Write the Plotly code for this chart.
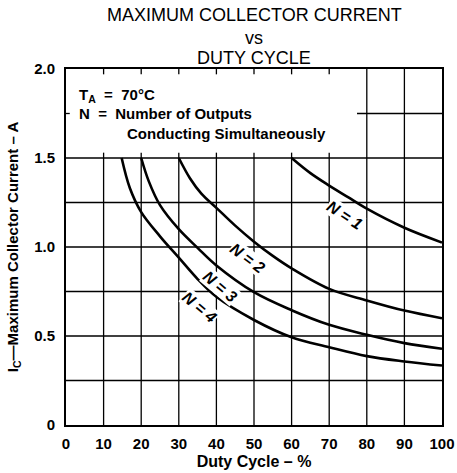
import plotly.graph_objects as go

# ---- data ----
n1_duty = [60, 65, 70, 75, 80, 90, 100]
n1_cur = [1.5, 1.415, 1.345, 1.28, 1.215, 1.108, 1.025]

n2_duty = [30, 33, 36, 40, 45, 50, 55, 60, 70, 80, 90, 100]
n2_cur = [1.5, 1.385, 1.30, 1.22, 1.12, 1.03, 0.95, 0.88, 0.765, 0.70, 0.643, 0.60]

n3_duty = [20, 22, 25, 30, 35, 40, 50, 60, 70, 80, 90, 100]
n3_cur = [1.5, 1.37, 1.235, 1.10, 0.995, 0.896, 0.746, 0.645, 0.563, 0.507, 0.46, 0.428]

n4_duty = [14.8, 17, 20, 25, 30, 35, 40, 50, 60, 70, 80, 90, 100]
n4_cur = [1.5, 1.33, 1.196, 1.06, 0.94, 0.82, 0.72, 0.59, 0.493, 0.437, 0.387, 0.357, 0.334]

x_ticks = [0, 10, 20, 30, 40, 50, 60, 70, 80, 90, 100]
y_ticks = [0, 0.5, 1.0, 1.5, 2.0]
y_tick_text = ["0", "0.5", "1.0", "1.5", "2.0"]
y_grid = [0.25, 0.5, 0.75, 1.0, 1.25, 1.5]

labels = ["N = 1", "N = 2", "N = 3", "N = 4"]
label_x = [74.2, 48.4, 41.0, 35.6]
label_y = [1.175, 0.935, 0.78, 0.66]
label_angle = [33, 37, 40, 40]

title_lines = ["MAXIMUM COLLECTOR CURRENT", "vs", "DUTY CYCLE"]
title_y_px = [15, 38, 58]

FONT = "Liberation Sans, Arial, Helvetica, sans-serif"
W, H = 457, 473
ML, MR, MT, MB = 66, 15, 69, 48

fig = go.Figure()
for xs, ys in [(n1_duty, n1_cur), (n2_duty, n2_cur), (n3_duty, n3_cur), (n4_duty, n4_cur)]:
    fig.add_trace(go.Scatter(x=xs, y=ys, mode="lines",
                             line=dict(color="black", width=2.6, shape="spline", smoothing=1.0),
                             showlegend=False, hoverinfo="skip"))

shapes = []
grid_line = dict(color="black", width=1.3)
for xv in x_ticks[1:-1]:
    top = 2.0 if xv >= 80 else 1.5
    shapes.append(dict(type="line", xref="x", yref="y", x0=xv, x1=xv, y0=0, y1=top,
                       line=grid_line, layer="below"))
    if xv < 80:
        shapes.append(dict(type="line", xref="x", yref="y", x0=xv, x1=xv, y0=1.97, y1=2.0,
                           line=grid_line, layer="below"))
        shapes.append(dict(type="line", xref="x", yref="y", x0=xv, x1=xv, y0=1.5, y1=1.53,
                           line=grid_line, layer="below"))
for yv in y_grid:
    shapes.append(dict(type="line", xref="x", yref="y", x0=0, x1=100, y0=yv, y1=yv,
                       line=grid_line, layer="below"))
shapes.append(dict(type="line", xref="x", yref="y", x0=77.4, x1=100, y0=1.75, y1=1.75,
                   line=grid_line, layer="below"))
shapes.append(dict(type="line", xref="x", yref="y", x0=0, x1=1, y0=1.75, y1=1.75,
                   line=grid_line, layer="below"))

annotations = []
for t, xv, yv, ang in zip(labels, label_x, label_y, label_angle):
    annotations.append(dict(x=xv, y=yv, xref="x", yref="y", text="<b><i>" + t + "</i></b>",
                            showarrow=False, textangle=ang, bgcolor="white", borderpad=0,
                            font=dict(family=FONT, size=16, color="black")))

annotations.append(dict(x=3, y=1.85, xref="x", yref="y", xanchor="left", yanchor="middle",
                        text="<b>T<sub>A</sub>  =  70°C</b>", showarrow=False,
                        font=dict(family=FONT, size=15, color="black")))
annotations.append(dict(x=3, y=1.75, xref="x", yref="y", xanchor="left", yanchor="middle",
                        text="<b>N  =  Number of Outputs</b>", showarrow=False,
                        font=dict(family=FONT, size=15, color="black")))
annotations.append(dict(x=15.8, y=1.635, xref="x", yref="y", xanchor="left", yanchor="middle",
                        text="<b>Conducting Simultaneously</b>", showarrow=False,
                        font=dict(family=FONT, size=15, color="black")))

for t, ypx in zip(title_lines, title_y_px):
    annotations.append(dict(x=0.5, y=1 + (MT - ypx) / (H - MT - MB), xref="paper", yref="paper",
                            xanchor="center", yanchor="middle", text=t, showarrow=False,
                            font=dict(family=FONT, size=18, color="black")))

fig.update_layout(
    width=W, height=H,
    margin=dict(l=ML, r=MR, t=MT, b=MB, autoexpand=False),
    paper_bgcolor="white", plot_bgcolor="white",
    font=dict(family=FONT, color="black"),
    shapes=shapes,
    annotations=annotations,
)
fig.update_xaxes(range=[0, 100], tickvals=x_ticks, ticktext=["<b>%d</b>" % v for v in x_ticks],
                 showgrid=False, zeroline=False, showline=True, mirror=True, automargin=False,
                 linecolor="black", linewidth=2, ticks="", ticklabelstandoff=4,
                 tickfont=dict(family=FONT, size=15, color="black"),
                 title=dict(text="<b>Duty Cycle – %</b>", standoff=5,
                            font=dict(family=FONT, size=16, color="black")))
fig.update_yaxes(range=[0, 2.0], tickvals=y_ticks, ticktext=["<b>%s</b>" % s for s in y_tick_text],
                 showgrid=False, zeroline=False, showline=True, mirror=True, automargin=False,
                 linecolor="black", linewidth=2, ticks="", ticklabelstandoff=6,
                 tickfont=dict(family=FONT, size=15, color="black"),
                 title=dict(text="<b>I<sub>C</sub>—Maximum Collector Current – A</b>", standoff=12,
                            font=dict(family=FONT, size=15, color="black")))

fig.write_html("out.html", config={"displayModeBar": False},
               post_script="document.body.style.margin='0px';")
